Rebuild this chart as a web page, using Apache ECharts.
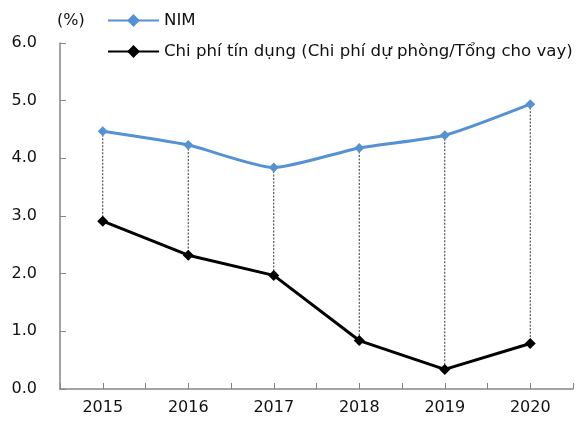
<!DOCTYPE html>
<html>
<head>
<meta charset="utf-8">
<script src="https://cdn.jsdelivr.net/npm/echarts@6/dist/echarts.min.js"></script>
<style>
  html, body { margin: 0; padding: 0; background: #fff; }
  #chart { width: 576px; height: 423px; }
</style>
</head>
<body>
<div id="chart"></div>
<script>
var years = ["2015", "2016", "2017", "2018", "2019", "2020"];
var nimValues = [4.47, 4.23, 3.84, 4.18, 4.40, 4.94];
var creditCostValues = [2.91, 2.32, 1.97, 0.84, 0.34, 0.79];
var nimName = "NIM";
var creditName = "Chi phí tín dụng (Chi phí dự phòng/Tổng cho vay)";

var font = "DejaVu Sans";
var axisGray = "#868686";

var chart = echarts.init(document.getElementById("chart"));

function pairs(values) {
  return values.map(function (v, i) { return [i, v]; });
}

var option = {
  animation: false,
  textStyle: { fontFamily: font },
  title: {
    text: "(%)",
    left: 57,
    top: 13,
    padding: 0,
    textStyle: { fontFamily: font, fontSize: 16, fontWeight: "normal", color: "#111" }
  },
  legend: {
    orient: "vertical",
    left: 107,
    top: 12,
    padding: 0,
    itemWidth: 51,
    itemHeight: 16,
    itemGap: 14,
    data: [nimName, creditName],
    textStyle: { fontFamily: font, fontSize: 16.6, color: "#111", lineHeight: 16 }
  },
  grid: { left: 60, right: 1, top: 43, bottom: 34 },
  xAxis: {
    type: "value",
    min: -0.5,
    max: 5.5,
    interval: 0.5,
    splitLine: { show: false },
    axisLine: { onZero: false, lineStyle: { color: axisGray, width: 1.5 } },
    axisTick: { inside: true, length: 6, lineStyle: { color: axisGray } },
    axisLabel: {
      margin: 11,
      fontFamily: font,
      fontSize: 16,
      color: "#111",
      showMinLabel: true,
      showMaxLabel: true,
      formatter: function (v) {
        var i = Math.round(v * 2) / 2;
        return Number.isInteger(i) && years[i] ? years[i] : "";
      }
    }
  },
  yAxis: {
    type: "value",
    min: 0,
    max: 6,
    interval: 1,
    splitLine: { show: false },
    axisLine: { show: true, onZero: false, lineStyle: { color: axisGray, width: 1.5 } },
    axisTick: { show: true, inside: true, length: 6, lineStyle: { color: axisGray } },
    axisLabel: {
      margin: 23,
      fontFamily: font,
      fontSize: 16,
      color: "#111",
      formatter: function (v) { return v.toFixed(1); }
    }
  },
  series: [
    {
      // dotted high-low lines between the two series
      type: "custom",
      silent: true,
      z: 1,
      data: years.map(function (y, i) { return [i, nimValues[i], creditCostValues[i]]; }),
      encode: { x: 0, y: [1, 2] },
      renderItem: function (params, api) {
        var top = api.coord([api.value(0), api.value(1)]);
        var bottom = api.coord([api.value(0), api.value(2)]);
        return {
          type: "line",
          shape: { x1: top[0], y1: top[1], x2: bottom[0], y2: bottom[1] },
          style: { stroke: "#333", lineWidth: 1, lineDash: [2, 1.5] }
        };
      }
    },
    {
      name: nimName,
      type: "line",
      z: 3,
      smooth: 0.2,
      data: pairs(nimValues),
      symbol: "diamond",
      symbolSize: 10,
      lineStyle: { color: "#5591D3", width: 3 },
      itemStyle: { color: "#5591D3" }
    },
    {
      name: creditName,
      type: "line",
      z: 3,
      data: pairs(creditCostValues),
      symbol: "diamond",
      symbolSize: 11,
      lineStyle: { color: "#000", width: 3 },
      itemStyle: { color: "#000" }
    }
  ]
};

chart.setOption(option);
</script>
</body>
</html>
